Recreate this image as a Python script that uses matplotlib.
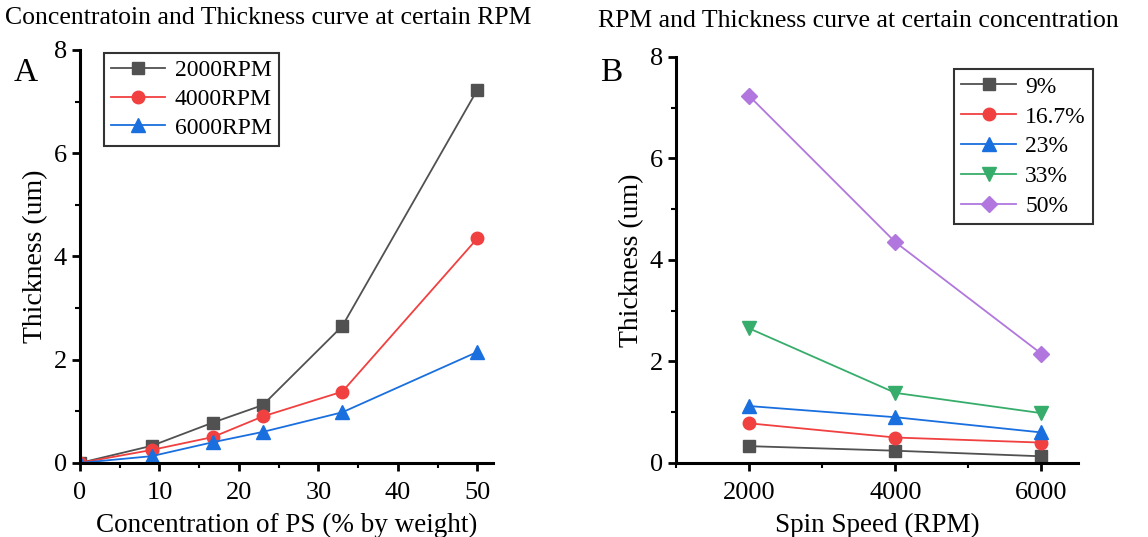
import matplotlib.pyplot as plt
from matplotlib.ticker import MultipleLocator

plt.rcParams['font.family'] = ['Liberation Serif', 'DejaVu Serif']

conc = [0, 9, 16.7, 23, 33, 50]
t2000 = [0, 0.33, 0.78, 1.12, 2.65, 7.23]
t4000 = [0, 0.25, 0.50, 0.90, 1.38, 4.35]
t6000 = [0, 0.13, 0.40, 0.60, 0.98, 2.15]

rpm = [2000, 4000, 6000]
c9 = [0.33, 0.24, 0.13]
c167 = [0.78, 0.50, 0.40]
c23 = [1.12, 0.90, 0.60]
c33 = [2.65, 1.38, 0.98]
c50 = [7.23, 4.35, 2.15]

gray, red, blue, green, purple = '#515151', '#F14040', '#1A6FDF', '#37AD6B', '#B177DE'

fig = plt.figure(figsize=(11.48, 5.37), dpi=100)
axA = fig.add_axes([0.0697, 0.138, 0.360, 0.769])
axB = fig.add_axes([0.589, 0.138, 0.350, 0.756])


def style(ax):
    for s in ['top', 'right']:
        ax.spines[s].set_visible(False)
    for s in ['left', 'bottom']:
        ax.spines[s].set_linewidth(2.2)
    ax.tick_params(which='major', direction='out', length=6, width=2, labelsize=19)
    ax.tick_params(which='minor', direction='out', length=3.5, width=1.5)
    ax.tick_params(axis='x', which='major', pad=8)
    ax.yaxis.set_major_locator(MultipleLocator(2))
    ax.yaxis.set_minor_locator(MultipleLocator(1))
    ax.set_ylim(0, 8)
    ax.set_ylabel('Thickness (um)', fontsize=20)


legkw = dict(fontsize=17, fancybox=False, edgecolor='black', handlelength=2.3,
             borderpad=0.3, labelspacing=0.3, handletextpad=0.4, borderaxespad=0)

ms = 9
axA.plot(conc, t2000, '-s', color=gray, ms=ms, lw=1.3, label='2000RPM')
axA.plot(conc, t4000, '-o', color=red, ms=ms, lw=1.3, label='4000RPM')
axA.plot(conc, t6000, '-^', color=blue, ms=ms + 1, lw=1.3, label='6000RPM')
style(axA)
axA.set_xlim(0, 52)
axA.xaxis.set_major_locator(MultipleLocator(10))
axA.xaxis.set_minor_locator(MultipleLocator(5))
axA.set_xlabel('Concentration of PS (% by weight)', fontsize=19.5, labelpad=6)
leg = axA.legend(loc='upper left', bbox_to_anchor=(0.058, 0.993), **legkw)
leg.get_frame().set_linewidth(1.5)
axA.text(-0.16, 0.925, 'A', transform=axA.transAxes, fontsize=24)
fig.text(0.004, 0.955, 'Concentratoin and Thickness curve at certain RPM', fontsize=18.5)

axB.plot(rpm, c9, '-s', color=gray, ms=ms, lw=1.3, label='9%')
axB.plot(rpm, c167, '-o', color=red, ms=ms, lw=1.3, label='16.7%')
axB.plot(rpm, c23, '-^', color=blue, ms=ms + 1, lw=1.3, label='23%')
axB.plot(rpm, c33, '-v', color=green, ms=ms + 1, lw=1.3, label='33%')
axB.plot(rpm, c50, '-D', color=purple, ms=ms - 1, lw=1.3, label='50%')
style(axB)
axB.set_xlim(1000, 6500)
axB.xaxis.set_major_locator(MultipleLocator(2000))
axB.xaxis.set_minor_locator(MultipleLocator(1000))
axB.set_xlabel('Spin Speed (RPM)', fontsize=19.5, labelpad=6)
leg = axB.legend(loc='upper right', bbox_to_anchor=(1.037, 0.97),
                 **dict(legkw, labelspacing=0.35))
leg.get_frame().set_linewidth(1.5)
axB.text(-0.19, 0.94, 'B', transform=axB.transAxes, fontsize=24)
fig.text(0.521, 0.95, 'RPM and Thickness curve at certain concentration', fontsize=18.5)

plt.savefig('out.png', dpi=100)
